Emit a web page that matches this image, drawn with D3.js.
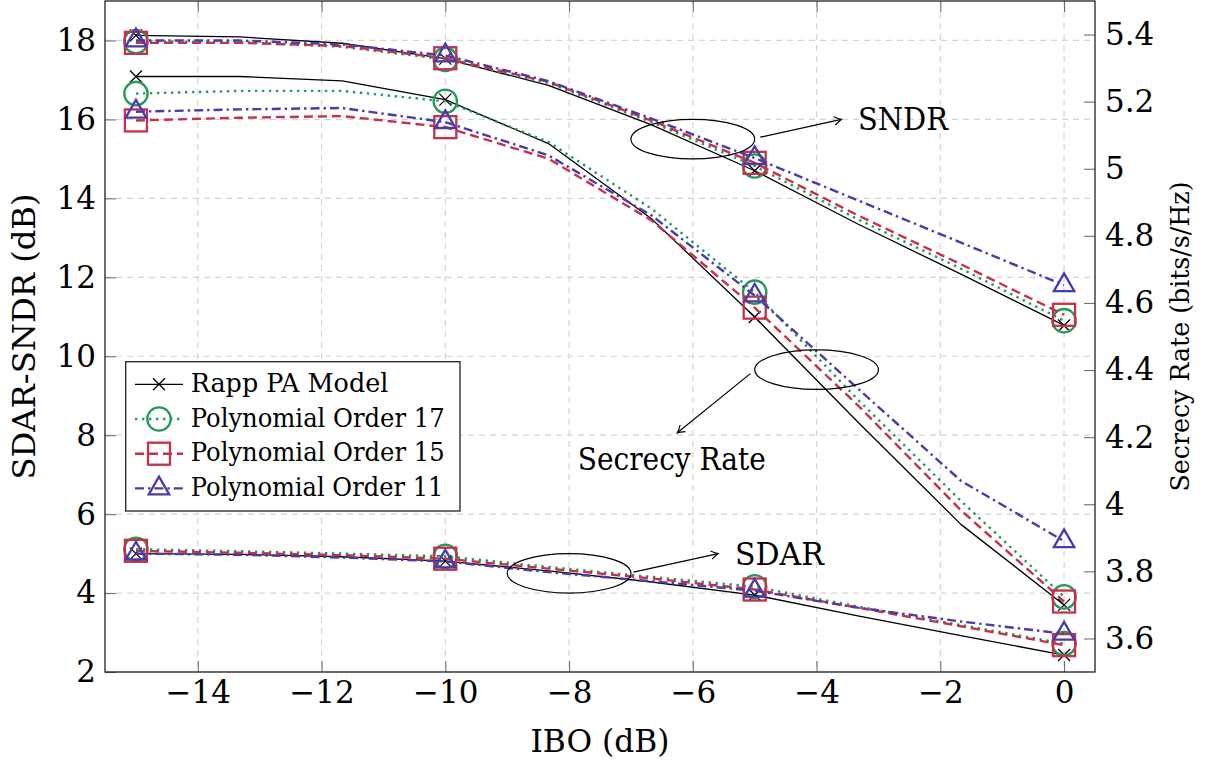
<!DOCTYPE html>
<html>
<head>
<meta charset="utf-8">
<script src="https://cdn.jsdelivr.net/npm/d3@7"></script>
<style>
  body { margin: 0; background: #fff; }
  svg text { font-family: "DejaVu Serif", "Liberation Serif", "Noto Serif", serif; fill: #000; }
</style>
</head>
<body>
<svg id="chart" width="1213" height="763"></svg>
<script>
// IBO sample points (dB); markers are placed on every third sample
const ibo = [-15, -13.333, -11.667, -10, -8.333, -6.667, -5, -3.333, -1.667, 0];
const markIdx = [0, 3, 6, 9];

const seriesNames = ["Rapp PA Model", "Polynomial Order 17", "Polynomial Order 15", "Polynomial Order 11"];

// SNDR (dB), left axis
const sndrRapp = [18.13, 18.09, 17.93, 17.54, 16.86, 15.86, 14.70, 13.35, 12.08, 10.78];
const sndrP17  = [17.97, 17.96, 17.84, 17.52, 16.92, 15.93, 14.82, 13.47, 12.22, 10.90];
const sndrP15  = [17.94, 17.94, 17.86, 17.55, 16.95, 15.97, 14.90, 13.57, 12.33, 11.05];
const sndrP11  = [18.00, 18.00, 17.90, 17.62, 16.97, 16.02, 15.02, 13.95, 12.88, 11.80];

// SDAR (dB), left axis
const sdarRapp = [5.00, 4.98, 4.92, 4.81, 4.56, 4.28, 3.95, 3.42, 2.92, 2.43];
const sdarP17  = [5.11, 5.06, 5.00, 4.93, 4.66, 4.41, 4.16, 3.66, 3.19, 2.72];
const sdarP15  = [5.07, 5.02, 4.96, 4.87, 4.62, 4.37, 4.09, 3.63, 3.16, 2.68];
const sdarP11  = [5.00, 4.97, 4.90, 4.80, 4.53, 4.30, 4.06, 3.63, 3.28, 2.97];

// Secrecy rate (bits/s/Hz), right axis
const srRapp = [5.275, 5.275, 5.262, 5.206, 5.075, 4.851, 4.558, 4.245, 3.940, 3.700];
const srP17  = [5.224, 5.232, 5.232, 5.201, 5.080, 4.881, 4.632, 4.312, 4.010, 3.724];
const srP15  = [5.144, 5.152, 5.157, 5.124, 5.030, 4.846, 4.586, 4.295, 3.982, 3.710];
const srP11  = [5.170, 5.177, 5.181, 5.139, 5.040, 4.861, 4.622, 4.345, 4.070, 3.890];

// Axis ticks
const xTicks = [-14, -12, -10, -8, -6, -4, -2, 0];
const leftTicks = [2, 4, 6, 8, 10, 12, 14, 16, 18];
const rightTicks = [3.6, 3.8, 4, 4.2, 4.4, 4.6, 4.8, 5, 5.2, 5.4];

// Annotations: ellipse centre in (IBO, left-axis dB), arrow from/to, label
const notes = [
  { label: "SNDR", cx: -6, cy: 15.5, from: [-4.91, 15.55], to: [-3.6, 16.0], text: [-3.33, 15.72], anchor: "start", width: 90 },
  { label: "Secrecy Rate", cx: -4, cy: 9.66, from: [-5.07, 9.56], to: [-6.25, 8.06], text: [-6.34, 7.12], anchor: "middle", width: 188 },
  { label: "SDAR", cx: -8, cy: 4.5, from: [-6.96, 4.53], to: [-5.59, 5.0], text: [-4.6, 4.7], anchor: "middle", width: 89 }
];

const styles = [
  { color: "#000000", width: 1.3, dash: null,        mark: "x" },
  { color: "#23995a", width: 2.4, dash: "2.4 4.6",   mark: "o" },
  { color: "#c8304a", width: 2.4, dash: "9 5",       mark: "s" },
  { color: "#4a3ca8", width: 2.4, dash: "9 4 2.4 4", mark: "t" }
];

const svg = d3.select("#chart");
const L = 105, R = 1095, T = 1, B = 672;

const x  = d3.scaleLinear().domain([-15.5, 0.5]).range([L, R]);
const yL = d3.scaleLinear().domain([2, 19]).range([B, T]);
const yR = d3.scaleLinear().domain([3.5, 5.5]).range([B, T]);

// grid
const grid = svg.append("g").attr("stroke", "#d4d4d4").attr("stroke-width", 1.2).attr("stroke-dasharray", "6 5");
grid.selectAll(".gx").data(xTicks).join("line")
  .attr("x1", d => x(d)).attr("x2", d => x(d)).attr("y1", T).attr("y2", B);
grid.selectAll(".gy").data(leftTicks).join("line")
  .attr("x1", L).attr("x2", R).attr("y1", d => yL(d)).attr("y2", d => yL(d));

// axes
function styleAxis(g) {
  g.attr("font-family", null);
  g.select(".domain").remove();
  g.selectAll(".tick line").attr("stroke", "#707070").attr("stroke-width", 1.1);
  g.selectAll(".tick text").attr("font-size", 31).attr("fill", "#000");
}
svg.append("g").attr("transform", `translate(0,${B})`)
  .call(d3.axisBottom(x).tickValues(xTicks).tickSize(-11).tickPadding(9).tickFormat(d3.format("d")))
  .call(styleAxis);
svg.append("g").attr("transform", `translate(0,${T})`)
  .call(d3.axisTop(x).tickValues(xTicks).tickSize(-11).tickFormat(""))
  .call(styleAxis);
svg.append("g").attr("transform", `translate(${L},0)`)
  .call(d3.axisLeft(yL).tickValues(leftTicks).tickSize(-11).tickPadding(9).tickFormat(d3.format("d")))
  .call(styleAxis);
svg.append("g").attr("transform", `translate(${R},0)`)
  .call(d3.axisRight(yR).tickValues(rightTicks).tickSize(-11).tickPadding(10).tickFormat(d => d3.format("~g")(d)))
  .call(styleAxis);

// frame
svg.append("rect").attr("x", L).attr("y", T).attr("width", R - L).attr("height", B - T)
  .attr("fill", "none").attr("stroke", "#222").attr("stroke-width", 1.3);

// markers
function drawMark(g, kind, cx, cy, st) {
  if (kind === "x") {
    const r = 6;
    g.append("path").attr("d", `M${cx - r},${cy - r}L${cx + r},${cy + r}M${cx - r},${cy + r}L${cx + r},${cy - r}`)
      .attr("stroke", st.color).attr("stroke-width", 1.3).attr("fill", "none");
  } else if (kind === "o") {
    g.append("circle").attr("cx", cx).attr("cy", cy).attr("r", 11.7)
      .attr("stroke", st.color).attr("stroke-width", 2.3).attr("fill", "none");
  } else if (kind === "s") {
    const r = 11;
    g.append("rect").attr("x", cx - r).attr("y", cy - r).attr("width", 2 * r).attr("height", 2 * r)
      .attr("stroke", st.color).attr("stroke-width", 2.3).attr("fill", "none");
  } else if (kind === "t") {
    const r = 11.8;
    const pts = [[cx, cy - r], [cx - r * Math.sqrt(3) / 2, cy + r / 2], [cx + r * Math.sqrt(3) / 2, cy + r / 2]];
    g.append("path").attr("d", "M" + pts.join("L") + "Z")
      .attr("stroke", st.color).attr("stroke-width", 2.3).attr("fill", "none").attr("stroke-linejoin", "miter");
  }
}

const groups = [
  { scale: yL, series: [sndrRapp, sndrP17, sndrP15, sndrP11] },
  { scale: yL, series: [sdarRapp, sdarP17, sdarP15, sdarP11] },
  { scale: yR, series: [srRapp, srP17, srP15, srP11] }
];

const plot = svg.append("g");
for (let s = 0; s < 4; s++) {
  const st = styles[s];
  groups.forEach(grp => {
    const vals = grp.series[s];
    const line = d3.line().x((d, i) => x(ibo[i])).y(d => grp.scale(d));
    plot.append("path").datum(vals).attr("d", line)
      .attr("fill", "none").attr("stroke", st.color).attr("stroke-width", st.width)
      .attr("stroke-dasharray", st.dash).attr("stroke-linejoin", "round");
    const mg = plot.append("g");
    markIdx.forEach(i => drawMark(mg, st.mark, x(ibo[i]), grp.scale(vals[i]), st));
  });
}

// annotations
const defs = svg.append("defs");
defs.append("marker").attr("id", "tip").attr("viewBox", "-10 -6 12 12")
  .attr("refX", 0).attr("refY", 0).attr("markerWidth", 12).attr("markerHeight", 12)
  .attr("markerUnits", "userSpaceOnUse").attr("orient", "auto")
  .append("path").attr("d", "M-7,-4.2Q-2.5,-1 0,0Q-2.5,1 -7,4.2")
  .attr("fill", "none").attr("stroke", "#000").attr("stroke-width", 1.2);

const ann = svg.append("g");
notes.forEach(n => {
  ann.append("ellipse").attr("cx", x(n.cx)).attr("cy", yL(n.cy))
    .attr("rx", x(n.cx + 1) - x(n.cx)).attr("ry", yL(n.cy) - yL(n.cy + 0.5))
    .attr("fill", "none").attr("stroke", "#000").attr("stroke-width", 1.2);
  ann.append("line").attr("x1", x(n.from[0])).attr("y1", yL(n.from[1]))
    .attr("x2", x(n.to[0])).attr("y2", yL(n.to[1]))
    .attr("stroke", "#000").attr("stroke-width", 1.2).attr("marker-end", "url(#tip)");
  ann.append("text").attr("x", x(n.text[0])).attr("y", yL(n.text[1]))
    .attr("text-anchor", n.anchor).attr("font-size", 31)
    .attr("textLength", n.width).attr("lengthAdjust", "spacingAndGlyphs")
    .text(n.label);
});

// legend
const lg = svg.append("g");
lg.append("rect").attr("x", 125.7).attr("y", 361.7).attr("width", 334.3).attr("height", 149.3)
  .attr("fill", "#fff").attr("stroke", "#222").attr("stroke-width", 1.3);
const legendWidths = [197.7, 254, 254, 252.7];
seriesNames.forEach((name, i) => {
  const st = styles[i];
  const cy = 384.3 + i * 34.7;
  lg.append("line").attr("x1", 135).attr("x2", 183).attr("y1", cy).attr("y2", cy)
    .attr("stroke", st.color).attr("stroke-width", st.width).attr("stroke-dasharray", st.dash);
  drawMark(lg, st.mark, 159, cy, st);
  lg.append("text").attr("x", 190.7).attr("y", cy + 7.6).attr("font-size", 26)
    .attr("textLength", legendWidths[i]).attr("lengthAdjust", "spacingAndGlyphs")
    .text(name);
});

// axis titles
svg.append("text").attr("x", (L + R) / 2).attr("y", 752).attr("text-anchor", "middle")
  .attr("font-size", 31).attr("textLength", 139).attr("lengthAdjust", "spacingAndGlyphs").text("IBO (dB)");
svg.append("text").attr("transform", `translate(35,${(T + B) / 2}) rotate(-90)`).attr("text-anchor", "middle")
  .attr("font-size", 32).attr("textLength", 286).attr("lengthAdjust", "spacingAndGlyphs").text("SDAR-SNDR (dB)");
svg.append("text").attr("transform", `translate(1189,${(T + B) / 2}) rotate(-90)`).attr("text-anchor", "middle")
  .attr("font-size", 26).attr("textLength", 310).attr("lengthAdjust", "spacingAndGlyphs").text("Secrecy Rate (bits/s/Hz)");
</script>
</body>
</html>
